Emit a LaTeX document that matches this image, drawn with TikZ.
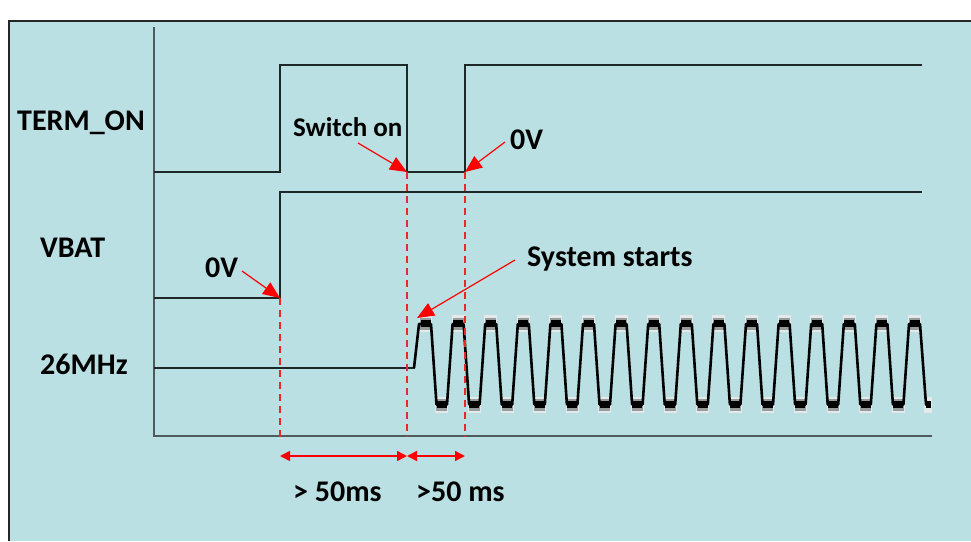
\documentclass[tikz,border=0pt]{standalone}
\usepackage{fontspec}
\setmainfont{Carlito}
\usetikzlibrary{arrows.meta}
\definecolor{bg}{RGB}{186,224,227}
\definecolor{sig}{RGB}{30,40,40}
\definecolor{axisc}{RGB}{80,90,92}
\definecolor{mark}{RGB}{235,40,40}
\definecolor{halo}{RGB}{228,234,234}
\definecolor{halo2}{RGB}{150,155,155}
\begin{document}
\begin{tikzpicture}[x=1pt,y=-1pt,
 sigline/.style={draw=sig, line width=1.1pt},
 axisline/.style={draw=axisc, line width=1.3pt},
 guide/.style={draw=mark, line width=1.6pt, dash pattern=on 7pt off 5pt},
 callout/.style={draw=red, line width=1.2pt, -{Triangle[length=17pt,width=14pt]}},
 span/.style={draw=red, line width=1.6pt, {Triangle[length=10pt,width=10pt]}-{Triangle[length=10pt,width=10pt]}},
 lbl/.style={inner sep=0pt, anchor=base west, font=\fontsize{30}{36}\selectfont\bfseries},
 small/.style={inner sep=0pt, anchor=base west, font=\fontsize{27}{32}\selectfont\bfseries},
 clock/.style={draw=black, line width=2.6pt, line join=round}]

\useasboundingbox (0,0) rectangle (971,541);
\fill[white] (0,0) rectangle (971,541);
\fill[bg] (9,21) rectangle (971,541);
\draw[line width=1.8pt, draw=black!85] (9,541) -- (9,21) -- (971,21);

% axes
\coordinate (ytop) at (154,27);
\coordinate (o) at (154,436);
\coordinate (xend) at (932,436);
\draw[axisline] (ytop) -- (o) -- (xend);

% key points
\coordinate (swon) at (407,172);
\coordinate (zv) at (465,172);
\coordinate (vb) at (280,298);
\coordinate (sys) at (417,318);
\coordinate (gb1) at (280,437);
\coordinate (gb2) at (407,437);
\coordinate (gb3) at (465,437);
\coordinate (s1) at (280,456);
\coordinate (s2) at (407,456);
\coordinate (s3) at (465,456);

% TERM_ON
\draw[sigline] (154,172) -- (280,172) -- (280,65) -- (407,65) -- (swon) -- (zv) -- (465,65) -- (922,65);
% VBAT
\draw[sigline] (154,298) -- (vb) -- (280,192) -- (922,192);
% 26MHz
\draw[sigline] (154,368) -- (415,368);
% blurred plateaus
\foreach \k in {0,...,15} {
  \fill[halo] ({425.5+32.6*\k-6.5},315) rectangle ++(13,17);
  \fill[halo2] ({425.5+32.6*\k-5.5},318) rectangle ++(11,12);
  \fill[black] ({425.5+32.6*\k-5},320) rectangle ++(10,7);
}
\foreach \k in {0,...,14} {
  \fill[halo] ({441.8+32.6*\k-6.5},397) rectangle ++(13,16);
  \fill[halo2] ({441.8+32.6*\k-5.5},399) rectangle ++(11,12);
  \fill[black] ({441.8+32.6*\k-5},401) rectangle ++(10,7);
}
\fill[halo] (924,397) rectangle (932,413);
\fill[black] (926,401) rectangle (931,408);
\draw[clock] (414,368) -- (419,324) -- (420,324)
  \foreach \k in {0,...,14} { -- ({431+32.6*\k},324) -- ({436.5+32.6*\k},404.5) -- ({447+32.6*\k},404.5) -- ({452.6+32.6*\k},324) }
  -- (920,324) -- (926,404.5) -- (930,406);

% guides
\draw[guide] (vb) -- (gb1);
\draw[guide] (swon) -- (gb2);
\draw[guide] (zv) -- (gb3);

% spans
\draw[span] (s1) -- (s2);
\draw[span] (s2) -- (s3);

% labels
\node[lbl] (lterm) at (17,130) {TERM\_ON};
\node[lbl] (lvbat) at (40,257) {VBAT};
\node[lbl] (lclk) at (40,374) {26MHz};
\node[small] (lsw) at (293,136) {Switch on};
\node[lbl] (lzv) at (510,149) {0V};
\node[lbl] (lzvb) at (205,277) {0V};
\node[lbl] (lsys) at (527,266) {System starts};
\node[lbl] (lt1) at (293,501) {> 50ms};
\node[lbl] (lt2) at (416,501) {>50 ms};

% callouts
\coordinate (swtail) at (358,143);
\coordinate (zvtail) at (505,142);
\coordinate (vbtail) at (242,271);
\coordinate (systail) at (515,260);
\draw[callout] (swtail) -- (swon);
\draw[callout] (zvtail) -- (zv);
\draw[callout] (vbtail) -- (vb);
\draw[callout] (systail) -- (sys);
\end{tikzpicture}
\end{document}
